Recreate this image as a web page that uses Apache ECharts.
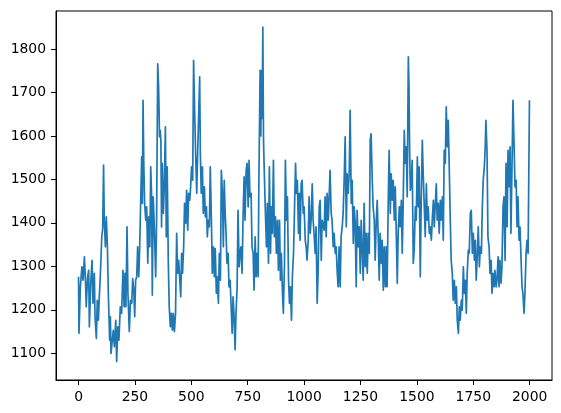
<!DOCTYPE html>
<html>
<head>
<meta charset="utf-8">
<script src="https://cdn.jsdelivr.net/npm/echarts@6/dist/echarts.min.js"></script>
<style>html,body{margin:0;padding:0;background:#fff}#c{width:561px;height:413px}</style>
</head>
<body>
<div id="c"></div>
<script>
// Values, in six stretches along the x axis
const seg1X = [0,2,8,15,20,26,31,34,40,45,48,54,60,64,70,73,79,83,88,92,97,103,107,111,114,119,123,128,132,138,141,144,150,154,159,165,169,174,179,185,191,197,202,206,210,215,219,225,230,236,240,245,249,253,258,262,267,271,276,280,283,286,289,293,298,302,307,311,316];
const seg1Y = [1276,1146,1253,1299,1268,1322,1261,1207,1276,1291,1161,1261,1314,1215,1284,1184,1134,1222,1176,1230,1284,1368,1387,1533,1406,1345,1414,1345,1238,1130,1184,1100,1096,1153,1115,1176,1081,1161,1130,1207,1192,1291,1207,1284,1207,1391,1238,1150,1222,1215,1272,1245,1184,1268,1276,1345,1276,1345,1460,1552,1445,1682,1544,1445,1406,1437,1307,1414,1345];
const seg2X = [320,324,327,331,336,342,346,351,355,359,362,365,368,371,376,380,385,389,393,398,402,407,411,416,420,425,430,435,439,444,448,453,457,461,466,470,475,479,484,488,493,497,501,506,510,515,519,524,528,532,537,540,544,549,553,558,562,567,571,575,580,584,589,593,598,602,606,611,615,620,624,629,633,638,642,646];
const seg2Y = [1529,1460,1234,1460,1391,1276,1406,1766,1713,1598,1613,1590,1391,1537,1422,1483,1621,1368,1529,1307,1207,1161,1192,1153,1192,1150,1192,1376,1284,1314,1276,1230,1330,1284,1345,1445,1399,1475,1383,1468,1452,1483,1529,1498,1774,1651,1560,1468,1560,1560,1736,1560,1468,1529,1422,1483,1414,1437,1368,1406,1391,1529,1406,1284,1345,1276,1341,1238,1276,1215,1330,1268,1521,1468,1345,1498];
const seg3X = [649,654,658,663,667,672,676,681,685,689,694,698,703,707,712,716,720,725,729,734,738,743,747,752,756,760,765,769,774,778,783,787,791,796,800,805,808,811,814,817,820,824,828,833,837,842,846,851,855,859,864,868,873,877,882,886,891,895,899,904,908,913,917,922,926,931,935,939,944,948,953,957,962,966,970,975,979];
const seg3Y = [1437,1376,1307,1330,1253,1268,1215,1146,1230,1192,1108,1192,1253,1429,1299,1330,1345,1284,1406,1506,1406,1521,1537,1437,1544,1460,1468,1345,1330,1245,1368,1276,1330,1276,1521,1751,1600,1750,1640,1850,1590,1506,1429,1345,1445,1307,1529,1330,1437,1376,1544,1368,1414,1330,1406,1291,1406,1268,1330,1238,1192,1307,1544,1406,1460,1268,1215,1253,1176,1276,1330,1422,1537,1468,1498,1376,1468];
const seg4X = [982,987,991,996,1000,1005,1009,1013,1018,1022,1027,1031,1036,1040,1044,1049,1053,1058,1062,1067,1071,1076,1080,1084,1089,1093,1098,1102,1107,1111,1115,1120,1124,1129,1133,1138,1142,1147,1151,1155,1160,1164,1169,1173,1178,1182,1187,1191,1195,1200,1204,1209,1213,1218,1222,1226,1231,1235,1240,1244,1249,1253,1258,1262,1266,1271,1275,1280,1284,1289,1293,1297,1302,1306,1311,1315];
const seg4Y = [1360,1490,1498,1422,1437,1360,1345,1314,1360,1460,1376,1406,1490,1406,1376,1330,1391,1215,1284,1437,1452,1314,1406,1406,1383,1460,1368,1468,1406,1460,1521,1422,1406,1345,1376,1330,1345,1284,1253,1345,1253,1368,1391,1422,1506,1598,1391,1513,1468,1513,1659,1445,1498,1353,1437,1406,1253,1429,1345,1391,1284,1406,1330,1268,1445,1299,1376,1284,1376,1330,1590,1605,1498,1437,1406,1314];
const seg5X = [1320,1324,1329,1333,1337,1342,1346,1351,1355,1360,1364,1368,1373,1377,1382,1386,1391,1395,1400,1404,1408,1413,1417,1422,1426,1431,1435,1439,1444,1448,1453,1457,1462,1465,1468,1471,1475,1479,1484,1488,1493,1497,1502,1506,1510,1515,1519,1524,1528,1533,1537,1542,1546,1550,1555,1559,1564,1568,1573,1577,1581,1586,1590,1595,1599,1604,1608,1613,1617,1621,1626,1630,1635,1639,1644];
const seg5Y = [1406,1452,1360,1268,1376,1307,1360,1245,1345,1253,1345,1253,1452,1567,1422,1513,1452,1498,1406,1483,1391,1261,1376,1437,1391,1452,1330,1437,1613,1537,1575,1460,1782,1713,1560,1475,1490,1544,1307,1337,1437,1406,1552,1437,1529,1276,1445,1590,1513,1513,1368,1490,1406,1437,1376,1391,1360,1406,1452,1391,1437,1490,1406,1445,1376,1452,1406,1460,1360,1567,1537,1667,1575,1636,1513];
const seg6X = [1648,1652,1657,1661,1666,1670,1675,1679,1684,1688,1692,1697,1701,1706,1710,1715,1719,1723,1728,1732,1737,1741,1746,1750,1755,1759,1763,1768,1772,1777,1781,1786,1790,1794,1799,1803,1806,1811,1815,1820,1824,1829,1833,1837,1842,1846,1851,1855,1860,1864,1868,1873,1877,1882,1886,1891,1895,1900,1904,1908,1913,1917,1922,1926,1931,1935,1940,1944,1948,1953,1957,1962,1966,1970,1975,1979,1984,1988,1993,1999];
const seg6Y = [1406,1314,1284,1222,1268,1215,1253,1176,1146,1207,1176,1222,1199,1299,1238,1268,1192,1284,1337,1330,1422,1429,1330,1376,1314,1360,1268,1330,1391,1299,1345,1330,1437,1498,1529,1575,1636,1560,1368,1345,1284,1314,1238,1284,1253,1291,1253,1268,1322,1253,1314,1261,1299,1437,1460,1314,1537,1391,1567,1483,1575,1376,1544,1682,1575,1483,1498,1391,1460,1360,1391,1314,1253,1238,1192,1238,1330,1360,1330,1682];

const xTicks = [0,250,500,750,1000,1250,1500,1750,2000];
const yTicks = [1100,1200,1300,1400,1500,1600,1700,1800];

const xs = [].concat(seg1X, seg2X, seg3X, seg4X, seg5X, seg6X);
const ys = [].concat(seg1Y, seg2Y, seg3Y, seg4Y, seg5Y, seg6Y);
const data = xs.map((x, i) => [x, ys[i]]);

const font = 'DejaVu Sans';
const plain = v => String(Math.round(v));
const chart = echarts.init(document.getElementById('c'), null, {renderer: 'canvas'});
chart.setOption({
  animation: false,
  backgroundColor: '#fff',
  grid: {left: 56, right: 9, top: 11, bottom: 33, show: true, borderColor: '#000', borderWidth: 1, containLabel: false},
  xAxis: {
    type: 'value', min: -99.95, max: 2098.95,
    splitLine: {show: false},
    axisLine: {show: true, onZero: false, lineStyle: {color: '#000', width: 1}},
    axisTick: {show: true, inside: false, length: 5, customValues: xTicks, lineStyle: {color: '#000', width: 1}},
    axisLabel: {show: true, margin: 10, customValues: xTicks, formatter: plain, color: '#000', fontFamily: font, fontSize: 13.9}
  },
  yAxis: {
    type: 'value', min: 1038.6, max: 1887.3,
    splitLine: {show: false},
    axisLine: {show: true, onZero: false, lineStyle: {color: '#000', width: 1}},
    axisTick: {show: true, inside: false, length: 5, customValues: yTicks, lineStyle: {color: '#000', width: 1}},
    axisLabel: {show: true, margin: 10, customValues: yTicks, formatter: plain, color: '#000', fontFamily: font, fontSize: 13.9}
  },
  series: [{
    type: 'line', data: data, showSymbol: false, symbol: 'none',
    lineStyle: {color: '#1f77b4', width: 1.7, join: 'round'}, itemStyle: {color: '#1f77b4'}
  }]
});
</script>
</body>
</html>
